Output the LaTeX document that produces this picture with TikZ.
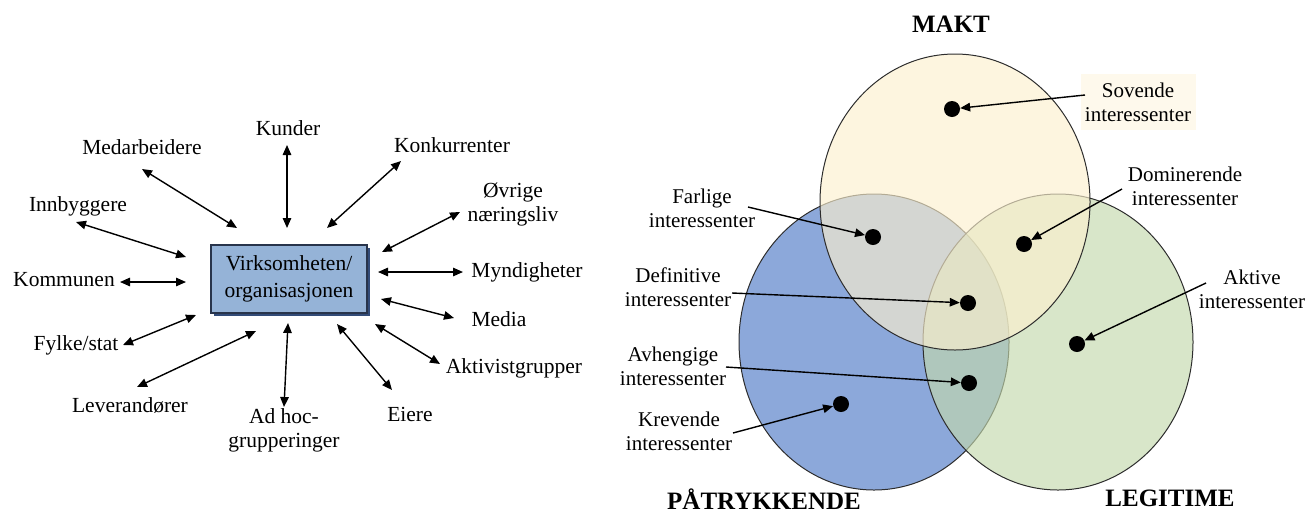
\documentclass[tikz,border=0pt]{standalone}
\usepackage{fontspec}
\setmainfont{Liberation Serif}
\usetikzlibrary{arrows.meta,shadows}
\definecolor{boxblue}{RGB}{149,179,215}
\definecolor{boxedge}{RGB}{40,52,75}
\definecolor{boxshadow}{RGB}{50,75,120}
\definecolor{bluefill}{RGB}{140,168,218}
\definecolor{greenfill}{RGB}{195,216,172}
\definecolor{topfill}{RGB}{252,240,206}
\definecolor{edgegray}{RGB}{45,45,45}
\definecolor{creambg}{RGB}{254,249,236}
\begin{document}
\begin{tikzpicture}[x=1pt,y=-1pt,
  lbl/.style={font=\fontsize{21.5}{24}\selectfont, inner sep=0pt, align=center},
  rlbl/.style={font=\fontsize{21}{24}\selectfont, inner sep=0pt, align=center},
  big/.style={font=\fontsize{25}{28}\selectfont\bfseries, inner sep=0pt},
  tip/.tip={Triangle[length=10pt,width=8.5pt]},
  dbl/.style={{tip}-{tip}, line width=1.4pt},
  one/.style={-{tip}, line width=1.4pt},
  blackdot/.style={circle, fill=black, minimum size=16pt, inner sep=0pt},
  venn/.style={draw=edgegray, line width=1pt},
  hubbox/.style={draw=boxedge, line width=1.2pt, fill=boxblue, minimum width=156pt, minimum height=68pt,
    align=center, inner sep=0pt, font=\fontsize{21.5}{27}\selectfont,
    drop shadow={shadow xshift=3pt, shadow yshift=-3pt, fill=boxshadow, opacity=1}}
]
\useasboundingbox (0,0) rectangle (1311,515);

% ---------------- left: hub diagram ----------------
\node[hubbox] (hub) at (289,279) {Virksomheten/\\organisasjonen};

\node[lbl] (kunder) at (288,128) {Kunder};
\node[lbl] (medarb) at (142,147) {Medarbeidere};
\node[lbl] (konk) at (452,145) {Konkurrenter};
\node[lbl] (ovrige) at (513,205) {Øvrige\\næringsliv};
\node[lbl] (innb) at (78,206) {Innbyggere};
\node[lbl] (komm) at (64,280) {Kommunen};
\node[lbl] (mynd) at (527,272) {Myndigheter};
\node[lbl] (media) at (499,319) {Media};
\node[lbl] (fylke) at (76,345) {Fylke/stat};
\node[lbl] (aktiv) at (514,368) {Aktivistgrupper};
\node[lbl] (lever) at (130,405) {Leverandører};
\node[lbl] (adhoc) at (284,430) {Ad hoc-\\grupperinger};
\node[lbl] (eiere) at (410,414) {Eiere};

\coordinate (kunA) at (287,145);  \coordinate (kunB) at (287,228);
\coordinate (medA) at (142,169);  \coordinate (medB) at (237,228);
\coordinate (konA) at (401,161);  \coordinate (konB) at (327,228);
\coordinate (ovrA) at (460,212);  \coordinate (ovrB) at (382,252);
\coordinate (innA) at (76,222);   \coordinate (innB) at (186,257);
\coordinate (komA) at (120,282);  \coordinate (komB) at (186,282);
\coordinate (mynA) at (463,272);  \coordinate (mynB) at (378,272);
\coordinate (medaA) at (454,318); \coordinate (medaB) at (381,299);
\coordinate (fylA) at (123,345);  \coordinate (fylB) at (196,315);
\coordinate (aktA) at (440,364);  \coordinate (aktB) at (375,324);
\coordinate (levA) at (137,387);  \coordinate (levB) at (256,331);
\coordinate (adhA) at (284,407);  \coordinate (adhB) at (288,323);
\coordinate (eieA) at (392,390);  \coordinate (eieB) at (337,324);

\draw[dbl] (kunA) -- (kunB);
\draw[dbl] (medA) -- (medB);
\draw[dbl] (konA) -- (konB);
\draw[dbl] (ovrA) -- (ovrB);
\draw[dbl] (innA) -- (innB);
\draw[dbl] (komA) -- (komB);
\draw[dbl] (mynA) -- (mynB);
\draw[dbl] (medaA) -- (medaB);
\draw[dbl] (fylA) -- (fylB);
\draw[dbl] (aktA) -- (aktB);
\draw[dbl] (levA) -- (levB);
\draw[dbl] (adhA) -- (adhB);
\draw[dbl] (eieA) -- (eieB);

% ---------------- right: Venn diagram ----------------
\draw[venn, fill=bluefill] (874,342) ellipse [x radius=135pt, y radius=148pt];
\draw[venn, fill=greenfill, fill opacity=0.65] (1058,342) ellipse [x radius=135pt, y radius=148pt];
\draw[venn, fill=topfill, fill opacity=0.65] (955,202) ellipse [x radius=135pt, y radius=148pt];

\node[big] (makt) at (951,24) {MAKT};
\node[big] (patr) at (764,499) {PÅTRYKKENDE};
\node[big] (legit) at (1170,498) {LEGITIME};

\node[blackdot] (sovD) at (952,109) {};
\node[blackdot] (farD) at (873,237) {};
\node[blackdot] (domD) at (1024,244) {};
\node[blackdot] (defD) at (968,303) {};
\node[blackdot] (aktD) at (1077,344) {};
\node[blackdot] (avhD) at (969,383) {};
\node[blackdot] (krevD) at (841,404) {};

\node[rlbl, fill=creambg, minimum width=115pt, minimum height=56pt] (sovL) at (1138,102) {Sovende\\interessenter};
\node[rlbl] (farL) at (702,208) {Farlige\\interessenter};
\node[rlbl] (domL) at (1185,186) {Dominerende\\interessenter};
\node[rlbl] (defL) at (678,287) {Definitive\\interessenter};
\node[rlbl] (aktL) at (1252,289) {Aktive\\interessenter};
\node[rlbl] (avhL) at (673,366) {Avhengige\\interessenter};
\node[rlbl] (krevL) at (679,431) {Krevende\\interessenter};

\coordinate (sovA) at (1085,95);
\coordinate (farA) at (748,207);
\coordinate (domA) at (1122,189);
\coordinate (defA) at (732,293);
\coordinate (aktA2) at (1206,283);
\coordinate (avhA) at (726,367);
\coordinate (krevA) at (733,433);

\draw[one] (sovA) -- (sovD);
\draw[one] (farA) -- (farD);
\draw[one] (domA) -- (domD);
\draw[one] (defA) -- (defD);
\draw[one] (aktA2) -- (aktD);
\draw[one] (avhA) -- (avhD);
\draw[one] (krevA) -- (krevD);
\end{tikzpicture}
\end{document}
